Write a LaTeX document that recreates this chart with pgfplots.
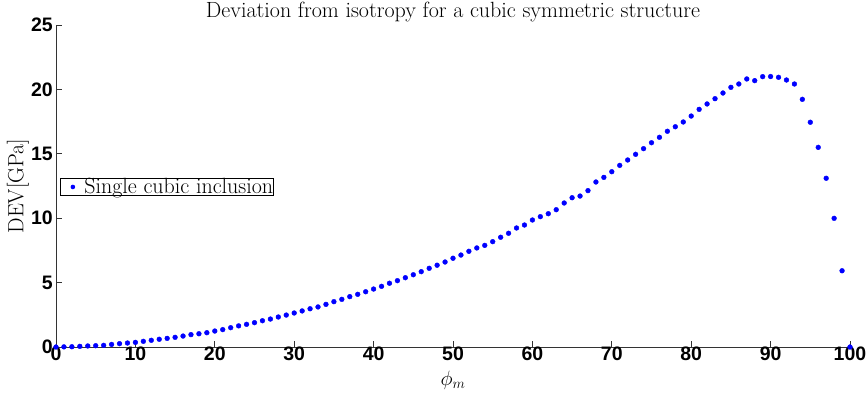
\documentclass[border=0pt]{standalone}
\usepackage{fontspec}
\usepackage{pgfplots}
\pgfplotsset{compat=1.18}
\newfontfamily\ticksf{Liberation Sans}
\pgfplotstableread{
x y
0 0
1 0.01
2 0.02
3 0.05
4 0.08
5 0.10
6 0.13
7 0.20
8 0.26
9 0.31
10 0.36
11 0.44
12 0.52
13 0.60
14 0.67
15 0.75
16 0.85
17 0.96
18 1.03
19 1.11
20 1.24
21 1.35
22 1.50
23 1.64
24 1.76
25 1.89
26 2.04
27 2.17
28 2.33
29 2.48
30 2.64
31 2.80
32 2.97
33 3.11
34 3.31
35 3.52
36 3.70
37 3.91
38 4.09
39 4.29
40 4.50
41 4.71
42 4.95
43 5.15
44 5.38
45 5.61
46 5.85
47 6.11
48 6.35
49 6.60
50 6.89
51 7.14
52 7.43
53 7.69
54 7.89
55 8.18
56 8.52
57 8.83
58 9.24
59 9.47
60 9.86
61 10.12
62 10.35
63 10.66
64 11.18
65 11.59
66 11.72
67 12.14
68 12.81
69 13.17
70 13.61
71 14.10
72 14.52
73 14.96
74 15.40
75 15.86
76 16.28
77 16.75
78 17.10
79 17.47
80 17.93
81 18.45
82 18.87
83 19.28
84 19.72
85 20.16
86 20.42
87 20.81
88 20.68
89 20.99
90 21.00
91 20.94
92 20.73
93 20.42
94 19.23
95 17.45
96 15.50
97 13.10
98 9.99
99 5.92
100 0
}\datatable
\begin{document}
\begin{tikzpicture}
\begin{axis}[
  scale only axis,
  width=794pt, height=322pt,
  xmin=0, xmax=100, ymin=0, ymax=25,
  xtick={0,10,...,100}, ytick={0,5,...,25},
  axis x line*=bottom, axis y line*=left,
  axis line style={black!80, line width=0.8pt},
  tick style={black!80, line width=0.8pt},
  tick align=inside, major tick length=6pt,
  /pgf/number format/assume math mode=true,
  tick label style={font=\fontsize{19.5}{22}\selectfont\ticksf\bfseries},
  xticklabel style={inner sep=1pt, yshift=1pt},
  yticklabel style={inner sep=1pt, xshift=-2pt},
  title={Deviation from isotropy for a cubic symmetric structure},
  every axis title shift=0pt,
  title style={font=\fontsize{22}{24}\selectfont, at={([yshift=7pt]rel axis cs:0.5,1)}, anchor=base},
  xlabel={$\phi_m$}, ylabel={DEV[GPa]},
  label style={font=\fontsize{22}{24}\selectfont},
  xlabel style={at={([yshift=-33pt]rel axis cs:0.5,0)}, anchor=center},
  ylabel style={at={([xshift=-38pt]rel axis cs:0,0.5)}, anchor=center, rotate=0},
  legend style={at={(0.005,0.497)}, anchor=west, draw=black, line width=0.8pt,
    font=\fontsize{22}{24}\selectfont, inner sep=0pt, row sep=0pt,
    nodes={inner sep=0pt}, legend cell align=left},
  legend image code/.code={\path[use as bounding box, draw=none, fill=none] (0pt,-2pt) rectangle (24pt,2pt); \fill[blue, draw=none] (12.5pt,0) circle (2.3pt);},
  clip=false,
]
\addplot[only marks, mark=*, mark size=2.4pt, blue, draw=blue, fill=blue] table[x=x,y=y]{\datatable};
\addlegendentry{Single cubic inclusion}
\path (rel axis cs:0,0) ++(-56pt,-49pt) coordinate (BBA);
\path (rel axis cs:1,1) ++(18pt,25pt) coordinate (BBB);
\end{axis}
\pgfresetboundingbox
\path[use as bounding box] (BBA) rectangle (BBB);
\end{tikzpicture}
\end{document}
